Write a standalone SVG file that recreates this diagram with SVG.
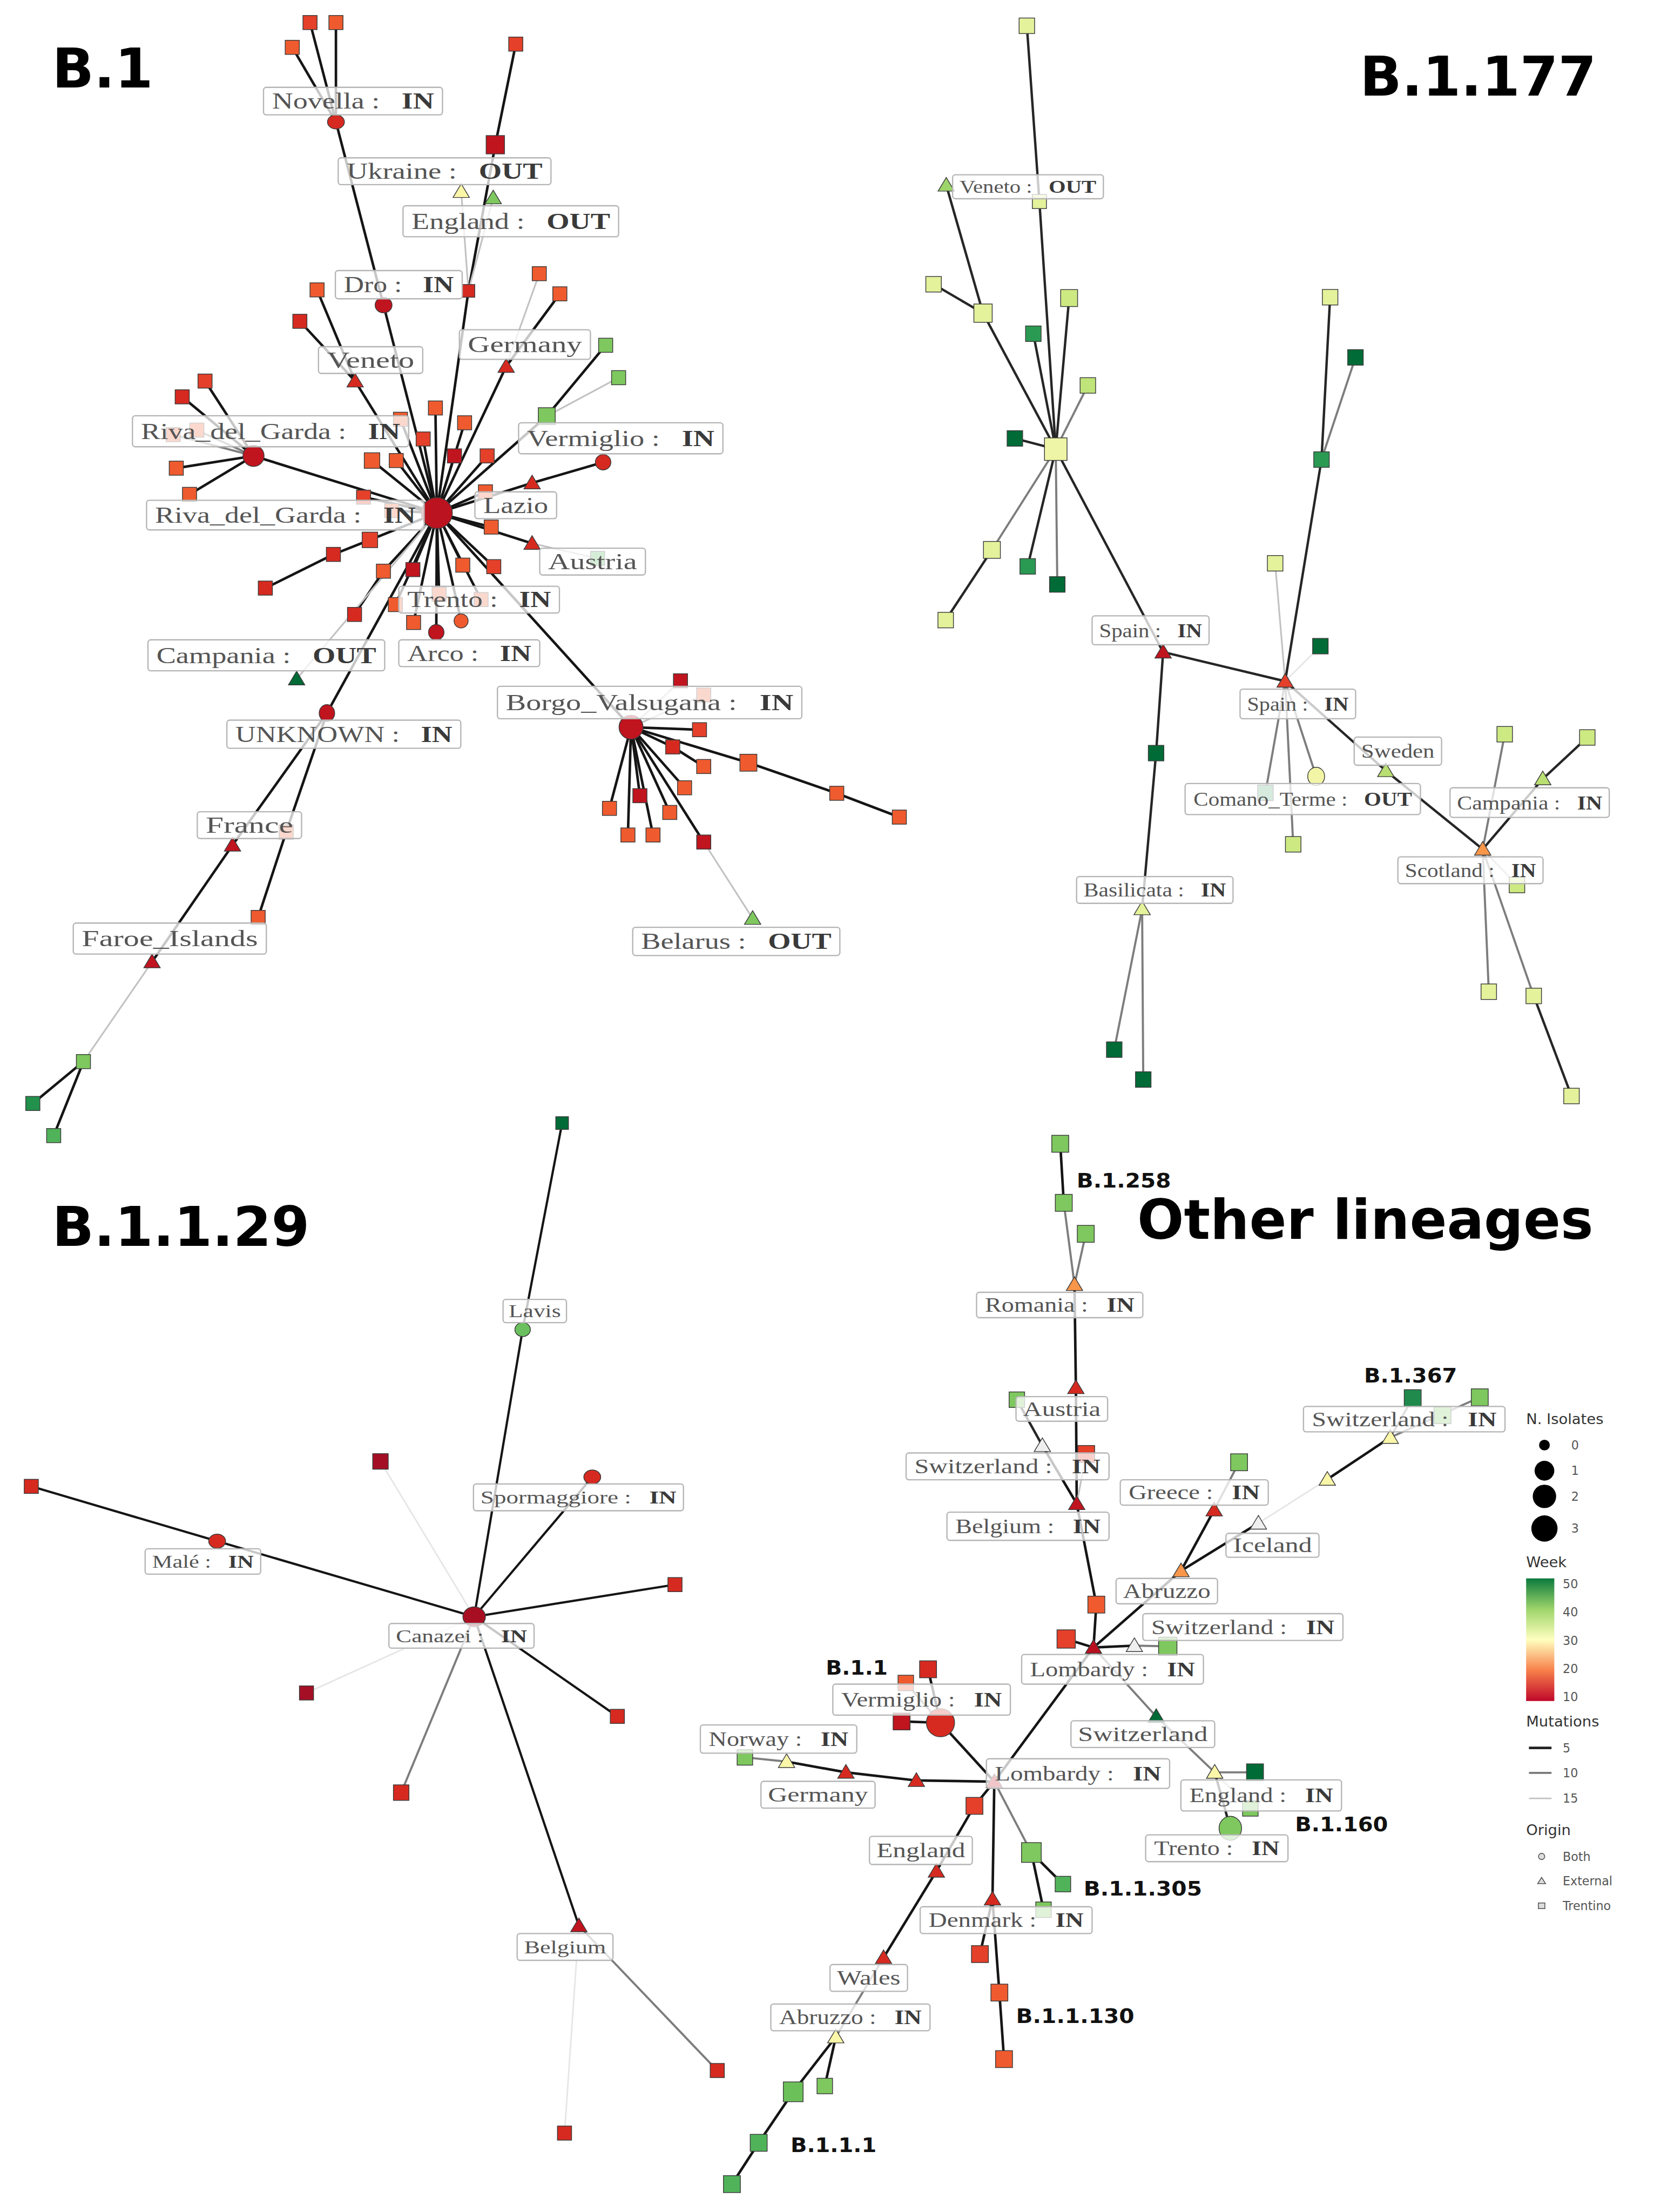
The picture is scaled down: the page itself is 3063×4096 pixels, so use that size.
<svg xmlns="http://www.w3.org/2000/svg" width="3063" height="4096" viewBox="0 0 3063 4096">
<style>
.e{fill:none;stroke-linecap:round}
.k{stroke:#151515;stroke-width:1.8}
.k2{stroke:#151515;stroke-width:1.6}
.d{stroke:#262626;stroke-width:1.7}
.m{stroke:#7d7d7d;stroke-width:1.5}
.p{stroke:#c2c2c2;stroke-width:1.2}
.q{stroke:#e6e6e6;stroke-width:1.1}
.n{stroke:#3a3a3a;stroke-width:0.55}
.lb rect{fill:#fff;fill-opacity:0.76;stroke:#b5b5b5;stroke-width:0.9}
.lb text{font-family:"Liberation Serif","DejaVu Serif",serif;fill:#555;white-space:pre;text-anchor:middle}
.lb .b{font-weight:bold;fill:#3a3a3a}
.s16 text{font-size:16px}
.s14 text{font-size:14px}
.s13 text{font-size:13px}
.s145 text{font-size:14.5px}
.tag{font-family:"DejaVu Sans",sans-serif;font-weight:bold;fill:#111;font-size:14px}
.ttl{font-family:"DejaVu Sans",sans-serif;font-weight:bold;font-size:39px;fill:#000}
.lg{font-family:"DejaVu Sans",sans-serif;fill:#555;font-size:8.5px}
.lgt{font-family:"DejaVu Sans",sans-serif;font-size:10.5px;fill:#333}
</style>
<rect width="3063" height="4096" fill="#fff"/>
<g transform="scale(2.6096)">
<defs>
<path id="t" d="M0,-5.5L5.8,4.2H-5.8Z"/>
<rect id="s9" x="-4.5" y="-4.5" width="9" height="9"/>
<rect id="s10" x="-5" y="-5" width="10" height="10"/>
<rect id="s11" x="-5.5" y="-5.5" width="11" height="11"/>
<rect id="s12" x="-6" y="-6" width="12" height="12"/>
<rect id="s13" x="-6.5" y="-6.5" width="13" height="13"/>
<rect id="s14" x="-7" y="-7" width="14" height="14"/>
<rect id="s16" x="-8" y="-8" width="16" height="16"/>
<linearGradient id="wk" x1="0" y1="0" x2="0" y2="1">
<stop offset="0" stop-color="#0b7a3e"/>
<stop offset="0.25" stop-color="#9dd46a"/>
<stop offset="0.5" stop-color="#ffffbf"/>
<stop offset="0.75" stop-color="#f7804a"/>
<stop offset="1" stop-color="#c0082a"/>
</linearGradient>
</defs>

<g id="connectors" class="e">
<!-- B.1 -->
<line class="k" x1="310" y1="364" x2="272.2" y2="216.5"/>
<line class="k" x1="272.2" y1="216.5" x2="238.4" y2="86.5"/>
<line class="k" x1="238.4" y1="86.5" x2="220" y2="16"/>
<line class="k" x1="238.4" y1="86.5" x2="238.4" y2="16"/>
<line class="k" x1="238.4" y1="86.5" x2="207.4" y2="33.6"/>
<line class="k" x1="310" y1="364" x2="332.4" y2="206.4"/>
<line class="k" x1="332.4" y1="206.4" x2="351.5" y2="102.7"/>
<line class="k" x1="351.5" y1="102.7" x2="366" y2="31.3"/>
<line class="p" x1="332.4" y1="206.4" x2="327.3" y2="135.9"/>
<line class="p" x1="332.4" y1="206.4" x2="350" y2="140.4"/>
<line class="k" x1="310" y1="364" x2="252" y2="270.4"/>
<line class="k" x1="252" y1="270.4" x2="225" y2="205.7"/>
<line class="k" x1="252" y1="270.4" x2="212.8" y2="228"/>
<line class="k" x1="310" y1="364" x2="359.2" y2="260"/>
<line class="p" x1="359.2" y1="260" x2="382.7" y2="194.2"/>
<line class="k" x1="359.2" y1="260" x2="397.3" y2="208.5"/>
<line class="k" x1="310" y1="364" x2="388" y2="295.3"/>
<line class="k" x1="388" y1="295.3" x2="429.8" y2="245"/>
<line class="p" x1="388" y1="295.3" x2="439" y2="268"/>
<line class="k" x1="310" y1="364" x2="179.9" y2="323.5"/>
<line class="k" x1="179.9" y1="323.5" x2="145.5" y2="270.4"/>
<line class="k" x1="179.9" y1="323.5" x2="129.3" y2="281.6"/>
<line class="k" x1="179.9" y1="323.5" x2="125.1" y2="332.2"/>
<line class="k" x1="179.9" y1="323.5" x2="134.5" y2="350.8"/>
<line class="m" x1="179.9" y1="323.5" x2="122.9" y2="308.4"/>
<line class="m" x1="179.9" y1="323.5" x2="139.7" y2="305.2"/>
<line class="k" x1="310" y1="364" x2="309" y2="289.5"/>
<line class="k" x1="310" y1="364" x2="329.7" y2="300"/>
<line class="k" x1="310" y1="364" x2="300.3" y2="311.5"/>
<line class="k" x1="310" y1="364" x2="264" y2="326.8"/>
<line class="k" x1="310" y1="364" x2="281.2" y2="326.8"/>
<line class="k" x1="310" y1="364" x2="322.5" y2="323.5"/>
<line class="k" x1="310" y1="364" x2="345.7" y2="323.5"/>
<line class="k" x1="310" y1="364" x2="258" y2="352.8"/>
<line class="k" x1="310" y1="364" x2="344.5" y2="349"/>
<line class="k" x1="310" y1="364" x2="284.2" y2="297.5"/>
<line class="k" x1="310" y1="364" x2="278" y2="362.3"/>
<line class="k" x1="310" y1="364" x2="377.6" y2="342.7"/>
<line class="k" x1="377.6" y1="342.7" x2="428" y2="328"/>
<line class="k" x1="310" y1="364" x2="348.6" y2="374"/>
<line class="k" x1="310" y1="364" x2="377.6" y2="385.6"/>
<line class="p" x1="377.6" y1="385.6" x2="424.1" y2="396.2"/>
<line class="k" x1="310" y1="364" x2="262.5" y2="383.1"/>
<line class="k" x1="262.5" y1="383.1" x2="236.6" y2="393.4"/>
<line class="k" x1="236.6" y1="393.4" x2="188.3" y2="417.3"/>
<line class="k" x1="310" y1="364" x2="272.1" y2="405.3"/>
<line class="k" x1="272.1" y1="405.3" x2="251.6" y2="436"/>
<line class="k" x1="310" y1="364" x2="293" y2="404.2"/>
<line class="k" x1="310" y1="364" x2="328.4" y2="401"/>
<line class="k" x1="310" y1="364" x2="350.4" y2="402.1"/>
<line class="k" x1="310" y1="364" x2="293.5" y2="441.7"/>
<line class="k" x1="310" y1="364" x2="309.6" y2="448.7"/>
<line class="k" x1="310" y1="364" x2="327.2" y2="440.6"/>
<line class="k" x1="310" y1="364" x2="280.6" y2="429"/>
<line class="k" x1="310" y1="364" x2="311.6" y2="421.6"/>
<line class="k" x1="310" y1="364" x2="341.4" y2="425.4"/>
<line class="p" x1="310" y1="364" x2="210.5" y2="481.8"/>
<line class="k" x1="310" y1="364" x2="232" y2="506"/>
<line class="k" x1="232" y1="506" x2="165" y2="599.7"/>
<line class="k" x1="165" y1="599.7" x2="107.9" y2="682.5"/>
<line class="k" x1="232" y1="506" x2="203.1" y2="590.3"/>
<line class="k" x1="203.1" y1="590.3" x2="183.2" y2="651"/>
<line class="p" x1="107.9" y1="682.5" x2="59.2" y2="753.3"/>
<line class="k" x1="59.2" y1="753.3" x2="23.3" y2="783"/>
<line class="k" x1="59.2" y1="753.3" x2="38.1" y2="805.8"/>
<line class="k" x1="310" y1="364" x2="447.8" y2="516"/>
<line class="p" x1="447.8" y1="516" x2="482.9" y2="483.1"/>
<line class="p" x1="447.8" y1="516" x2="499.4" y2="493.2"/>
<line class="k" x1="447.8" y1="516" x2="496.4" y2="517.8"/>
<line class="k" x1="447.8" y1="516" x2="477.4" y2="530"/>
<line class="k" x1="477.4" y1="530" x2="499.4" y2="543.9"/>
<line class="k" x1="447.8" y1="516" x2="531.1" y2="541.2"/>
<line class="k" x1="531.1" y1="541.2" x2="593.8" y2="562.9"/>
<line class="k" x1="593.8" y1="562.9" x2="638.2" y2="579.8"/>
<line class="k" x1="447.8" y1="516" x2="485.8" y2="559"/>
<line class="k" x1="447.8" y1="516" x2="454.1" y2="564.6"/>
<line class="k" x1="447.8" y1="516" x2="432.5" y2="573.6"/>
<line class="k" x1="447.8" y1="516" x2="475.3" y2="576.5"/>
<line class="k" x1="447.8" y1="516" x2="445.6" y2="592.5"/>
<line class="k" x1="447.8" y1="516" x2="463.4" y2="592.5"/>
<line class="k" x1="447.8" y1="516" x2="499.4" y2="597.5"/>
<line class="p" x1="499.4" y1="597.5" x2="534.1" y2="651.7"/>
<!-- B.1.177 -->
<line class="d" x1="728.7" y1="18.3" x2="737.6" y2="143"/>
<line class="d" x1="737.6" y1="143" x2="749.2" y2="318.7"/>
<line class="d" x1="671.5" y1="131.4" x2="697.6" y2="222.2"/>
<line class="d" x1="662.5" y1="201.7" x2="697.6" y2="222.2"/>
<line class="d" x1="697.6" y1="222.2" x2="749.2" y2="318.7"/>
<line class="d" x1="758.7" y1="211.5" x2="749.2" y2="318.7"/>
<line class="d" x1="733.3" y1="236.8" x2="749.2" y2="318.7"/>
<line class="m" x1="772" y1="273.5" x2="749.2" y2="318.7"/>
<line class="d" x1="720.2" y1="311.1" x2="749.2" y2="318.7"/>
<line class="m" x1="703.9" y1="390.2" x2="749.2" y2="318.7"/>
<line class="d" x1="671.1" y1="440" x2="703.9" y2="390.2"/>
<line class="d" x1="729.3" y1="401.9" x2="749.2" y2="318.7"/>
<line class="m" x1="750.3" y1="414.7" x2="749.2" y2="318.7"/>
<line class="d" x1="749.2" y1="318.7" x2="825.4" y2="462.7"/>
<line class="d" x1="825.4" y1="462.7" x2="912" y2="483.4"/>
<line class="d" x1="825.4" y1="462.7" x2="820.4" y2="534.4"/>
<line class="d" x1="820.4" y1="534.4" x2="810.5" y2="644.9"/>
<line class="m" x1="810.5" y1="644.9" x2="790.7" y2="744.8"/>
<line class="m" x1="810.5" y1="644.9" x2="811.3" y2="766"/>
<line class="d" x1="912" y1="483.4" x2="937.8" y2="326.1"/>
<line class="d" x1="937.8" y1="326.1" x2="943.9" y2="210.9"/>
<line class="m" x1="937.8" y1="326.1" x2="961.9" y2="253.6"/>
<line class="p" x1="912" y1="483.4" x2="904.9" y2="399.7"/>
<line class="q" x1="912" y1="483.4" x2="937" y2="458.5"/>
<line class="m" x1="912" y1="483.4" x2="898" y2="562.6"/>
<line class="m" x1="912" y1="483.4" x2="917.7" y2="599.1"/>
<line class="m" x1="912" y1="483.4" x2="934" y2="550.9"/>
<line class="d" x1="912" y1="483.4" x2="983.4" y2="546.9"/>
<line class="d" x1="983.4" y1="546.9" x2="1052.2" y2="602.6"/>
<line class="d" x1="1052.2" y1="602.6" x2="1094.8" y2="552.7"/>
<line class="d" x1="1094.8" y1="552.7" x2="1126.4" y2="523.3"/>
<line class="m" x1="1052.2" y1="602.6" x2="1067.8" y2="521"/>
<line class="p" x1="1052.2" y1="602.6" x2="1076.5" y2="628"/>
<line class="m" x1="1052.2" y1="602.6" x2="1056.5" y2="703.7"/>
<line class="m" x1="1052.2" y1="602.6" x2="1088.4" y2="706.7"/>
<line class="d" x1="1088.4" y1="706.7" x2="1115.2" y2="777.7"/>
<!-- B.1.1.29 -->
<line class="k2" x1="398.9" y1="796.9" x2="370.9" y2="943.4"/>
<line class="k2" x1="370.9" y1="943.4" x2="336.5" y2="1147.2"/>
<line class="q" x1="336.5" y1="1147.2" x2="270" y2="1037"/>
<line class="k2" x1="336.5" y1="1147.2" x2="420.3" y2="1048.1"/>
<line class="k2" x1="336.5" y1="1147.2" x2="154.1" y2="1093.6"/>
<line class="k2" x1="154.1" y1="1093.6" x2="22.2" y2="1054.7"/>
<line class="k2" x1="336.5" y1="1147.2" x2="479" y2="1124.4"/>
<line class="k2" x1="336.5" y1="1147.2" x2="438.1" y2="1217.9"/>
<line class="m" x1="336.5" y1="1147.2" x2="284.7" y2="1272"/>
<line class="q" x1="336.5" y1="1147.2" x2="217.5" y2="1201.3"/>
<line class="k2" x1="336.5" y1="1147.2" x2="410.8" y2="1366.5"/>
<line class="m" x1="410.8" y1="1366.5" x2="509" y2="1469.2"/>
<line class="q" x1="410.8" y1="1366.5" x2="400.6" y2="1513.6"/>
<!-- Other lineages -->
<line class="k" x1="752.4" y1="811.6" x2="754.9" y2="853.5"/>
<line class="m" x1="754.9" y1="853.5" x2="762.5" y2="911.5"/>
<line class="m" x1="770.5" y1="875.5" x2="762.5" y2="911.5"/>
<line class="k" x1="762.5" y1="911.5" x2="763.5" y2="984.7"/>
<line class="k" x1="763.5" y1="984.7" x2="764.1" y2="1067"/>
<line class="d" x1="721.6" y1="993.2" x2="739.7" y2="1025.8"/>
<line class="k" x1="739.7" y1="1025.8" x2="764.1" y2="1067"/>
<line class="p" x1="770.8" y1="1031.7" x2="764.1" y2="1067"/>
<line class="k" x1="764.1" y1="1067" x2="778" y2="1138.6"/>
<line class="k" x1="778" y1="1138.6" x2="776" y2="1169"/>
<line class="k" x1="776" y1="1169" x2="756.6" y2="1163"/>
<line class="k" x1="776" y1="1169" x2="805" y2="1167.7"/>
<line class="m" x1="805" y1="1167.7" x2="828.7" y2="1168.2"/>
<line class="k" x1="776" y1="1169" x2="838.1" y2="1114.6"/>
<line class="k" x1="838.1" y1="1114.6" x2="861.6" y2="1071.5"/>
<line class="m" x1="861.6" y1="1071.5" x2="879.3" y2="1037.6"/>
<line class="k" x1="838.1" y1="1114.6" x2="893" y2="1080.8"/>
<line class="q" x1="893" y1="1080.8" x2="941.9" y2="1049.7"/>
<line class="k" x1="941.9" y1="1049.7" x2="986.6" y2="1020"/>
<line class="m" x1="986.6" y1="1020" x2="1002.5" y2="992.1"/>
<line class="m" x1="986.6" y1="1020" x2="1050.1" y2="991.5"/>
<line class="m" x1="776" y1="1169" x2="820.5" y2="1218"/>
<line class="m" x1="820.5" y1="1218" x2="862" y2="1257.6"/>
<line class="m" x1="862" y1="1257.6" x2="890.6" y2="1257.6"/>
<line class="p" x1="862" y1="1257.6" x2="887.3" y2="1283.2"/>
<line class="d" x1="862" y1="1257.6" x2="873.1" y2="1297.3"/>
<line class="k" x1="776" y1="1169" x2="705.6" y2="1264.2"/>
<line class="k" x1="705.6" y1="1264.2" x2="667.4" y2="1222.4"/>
<line class="k" x1="667.4" y1="1222.4" x2="639.8" y2="1221.5"/>
<line class="k" x1="667.4" y1="1222.4" x2="658.6" y2="1184.5"/>
<line class="m" x1="667.4" y1="1222.4" x2="642.8" y2="1194.2"/>
<line class="k" x1="705.6" y1="1264.2" x2="650.3" y2="1263.4"/>
<line class="k" x1="650.3" y1="1263.4" x2="600.3" y2="1257.6"/>
<line class="k" x1="600.3" y1="1257.6" x2="558.2" y2="1250"/>
<line class="m" x1="558.2" y1="1250" x2="528.6" y2="1247"/>
<line class="k" x1="705.6" y1="1264.2" x2="691.5" y2="1281.4"/>
<line class="k" x1="691.5" y1="1281.4" x2="664.5" y2="1327.8"/>
<line class="k" x1="664.5" y1="1327.8" x2="627" y2="1389.1"/>
<line class="m" x1="627" y1="1389.1" x2="593.1" y2="1445.4"/>
<line class="k" x1="593.1" y1="1445.4" x2="562.9" y2="1484.3"/>
<line class="k" x1="562.9" y1="1484.3" x2="538.4" y2="1520.5"/>
<line class="k" x1="538.4" y1="1520.5" x2="519.4" y2="1549.8"/>
<line class="k" x1="593.1" y1="1445.4" x2="585.3" y2="1480.2"/>
<line class="k" x1="705.6" y1="1264.2" x2="704.3" y2="1347.6"/>
<line class="k" x1="704.3" y1="1347.6" x2="695.4" y2="1386.6"/>
<line class="k" x1="704.3" y1="1347.6" x2="709.2" y2="1413.9"/>
<line class="k" x1="709.2" y1="1413.9" x2="712.5" y2="1461.1"/>
<line class="m" x1="705.6" y1="1264.2" x2="731.9" y2="1314.5"/>
<line class="k" x1="731.9" y1="1314.5" x2="754.3" y2="1336.9"/>
<line class="k" x1="731.9" y1="1314.5" x2="740.5" y2="1355.1"/>
</g>

<g id="nodes" class="n">
<!-- B.1 -->
<g id="b1-hub"><circle cx="310" cy="364" r="11" fill="#bb131f"/></g>
<g id="b1-novella"><ellipse cx="238.4" cy="86.5" rx="6" ry="5" fill="#d62a20"/></g>
<g id="b1-n1"><use href="#s10" x="220" y="16" fill="#e4402a"/></g>
<g id="b1-n2"><use href="#s10" x="238.4" y="16" fill="#ef5b2e"/></g>
<g id="b1-n3"><use href="#s10" x="207.4" y="33.6" fill="#ef5b2e"/></g>
<g id="b1-dro"><ellipse cx="272.2" cy="216.5" rx="6" ry="5.5" fill="#c0141f"/></g>
<g id="b1-n4"><use href="#s13" x="351.5" y="102.7" fill="#c0141f"/></g>
<g id="b1-n5"><use href="#s10" x="366" y="31.3" fill="#e4402a"/></g>
<g id="b1-n6"><use href="#s9" x="332.4" y="206.4" fill="#d62a20"/></g>
<g id="b1-ukraine"><use href="#t" x="327.3" y="135.9" fill="#fbf7a9"/></g>
<g id="b1-england"><use href="#t" x="350" y="140.4" fill="#7ec85f"/></g>
<g id="b1-veneto"><use href="#t" x="252" y="270.4" fill="#d62a20"/></g>
<g id="b1-n7"><use href="#s10" x="225" y="205.7" fill="#ef5b2e"/></g>
<g id="b1-n8"><use href="#s10" x="212.8" y="228" fill="#d62a20"/></g>
<g id="b1-germany"><use href="#t" x="359.2" y="260" fill="#d62a20"/></g>
<g id="b1-n9"><use href="#s10" x="382.7" y="194.2" fill="#ef5b2e"/></g>
<g id="b1-n10"><use href="#s10" x="397.3" y="208.5" fill="#ef5b2e"/></g>
<g id="b1-n11"><use href="#s12" x="388" y="295.3" fill="#7ec85f"/></g>
<g id="b1-n12"><use href="#s10" x="429.8" y="245" fill="#7ec85f"/></g>
<g id="b1-n13"><use href="#s10" x="439" y="268" fill="#7ec85f"/></g>
<g id="b1-riva"><circle cx="179.9" cy="323.5" r="7.5" fill="#c0141f"/></g>
<g id="b1-n14"><use href="#s10" x="145.5" y="270.4" fill="#e4402a"/></g>
<g id="b1-n15"><use href="#s10" x="129.3" y="281.6" fill="#d62a20"/></g>
<g id="b1-n16"><use href="#s10" x="125.1" y="332.2" fill="#ef5b2e"/></g>
<g id="b1-n17"><use href="#s10" x="134.5" y="350.8" fill="#ef5b2e"/></g>
<g id="b1-n18"><use href="#s10" x="122.9" y="308.4" fill="#ef5b2e"/></g>
<g id="b1-n19"><use href="#s10" x="139.7" y="305.2" fill="#ef5b2e"/></g>
<g id="b1-n20"><use href="#s10" x="309" y="289.5" fill="#ef5b2e"/></g>
<g id="b1-n21"><use href="#s10" x="329.7" y="300" fill="#ef5b2e"/></g>
<g id="b1-n22"><use href="#s10" x="300.3" y="311.5" fill="#e4402a"/></g>
<g id="b1-n23"><use href="#s11" x="264" y="326.8" fill="#ef5b2e"/></g>
<g id="b1-n24"><use href="#s10" x="281.2" y="326.8" fill="#ef5b2e"/></g>
<g id="b1-n25"><use href="#s10" x="322.5" y="323.5" fill="#c0141f"/></g>
<g id="b1-n26"><use href="#s10" x="345.7" y="323.5" fill="#e4402a"/></g>
<g id="b1-n27"><use href="#s10" x="258" y="352.8" fill="#e4402a"/></g>
<g id="b1-n28"><use href="#s10" x="344.5" y="349" fill="#ef5b2e"/></g>
<g id="b1-n29"><use href="#s10" x="284.2" y="297.5" fill="#ef5b2e"/></g>
<g id="b1-n30"><use href="#s10" x="278" y="362.3" fill="#ef5b2e"/></g>
<g id="b1-n31"><use href="#s10" x="348.6" y="374" fill="#ef5b2e"/></g>
<g id="b1-lazio"><use href="#t" x="377.6" y="342.7" fill="#d62a20"/></g>
<g id="b1-vermiglio"><circle cx="428" cy="328" r="5.5" fill="#d62a20"/></g>
<g id="b1-austria"><use href="#t" x="377.6" y="385.6" fill="#d62a20"/></g>
<g id="b1-n32"><use href="#s10" x="424.1" y="396.2" fill="#50b35a"/></g>
<g id="b1-n33"><use href="#s11" x="262.5" y="383.1" fill="#e4402a"/></g>
<g id="b1-n34"><use href="#s10" x="236.6" y="393.4" fill="#d62a20"/></g>
<g id="b1-n35"><use href="#s10" x="188.3" y="417.3" fill="#d62a20"/></g>
<g id="b1-n36"><use href="#s10" x="272.1" y="405.3" fill="#ef5b2e"/></g>
<g id="b1-n37"><use href="#s10" x="251.6" y="436" fill="#d62a20"/></g>
<g id="b1-n38"><use href="#s10" x="293" y="404.2" fill="#c0141f"/></g>
<g id="b1-n39"><use href="#s10" x="328.4" y="401" fill="#ef5b2e"/></g>
<g id="b1-n40"><use href="#s10" x="350.4" y="402.1" fill="#e4402a"/></g>
<g id="b1-n41"><use href="#s10" x="293.5" y="441.7" fill="#ef5b2e"/></g>
<g id="b1-arco"><circle cx="309.6" cy="448.7" r="5.5" fill="#c0141f"/></g>
<g id="b1-trento"><circle cx="327.2" cy="440.6" r="5" fill="#ef5b2e"/></g>
<g id="b1-n42"><use href="#s10" x="280.6" y="429" fill="#ef5b2e"/></g>
<g id="b1-n43"><use href="#s10" x="311.6" y="421.6" fill="#ef5b2e"/></g>
<g id="b1-n44"><use href="#s10" x="341.4" y="425.4" fill="#ef5b2e"/></g>
<g id="b1-campania"><use href="#t" x="210.5" y="481.8" fill="#006b36"/></g>
<g id="b1-unknown"><ellipse cx="232" cy="506" rx="5.5" ry="6" fill="#c0141f"/></g>
<g id="b1-france"><use href="#t" x="165" y="599.7" fill="#c0141f"/></g>
<g id="b1-n45"><use href="#s10" x="203.1" y="590.3" fill="#ef5b2e"/></g>
<g id="b1-n46"><use href="#s10" x="183.2" y="651" fill="#ef5b2e"/></g>
<g id="b1-faroe"><use href="#t" x="107.9" y="682.5" fill="#c0141f"/></g>
<g id="b1-n47"><use href="#s10" x="59.2" y="753.3" fill="#7ec85f"/></g>
<g id="b1-n48"><use href="#s10" x="23.3" y="783" fill="#21914b"/></g>
<g id="b1-n49"><use href="#s10" x="38.1" y="805.8" fill="#50b35a"/></g>
<g id="b1-borgo"><circle cx="447.8" cy="516" r="8.5" fill="#c0141f"/></g>
<g id="b1-n50"><use href="#s10" x="482.9" y="483.1" fill="#c0141f"/></g>
<g id="b1-n51"><use href="#s10" x="499.4" y="493.2" fill="#ef5b2e"/></g>
<g id="b1-n52"><use href="#s10" x="496.4" y="517.8" fill="#e4402a"/></g>
<g id="b1-n53"><use href="#s10" x="477.4" y="530" fill="#d62a20"/></g>
<g id="b1-n54"><use href="#s10" x="499.4" y="543.9" fill="#ef5b2e"/></g>
<g id="b1-n55"><use href="#s12" x="531.1" y="541.2" fill="#ef5b2e"/></g>
<g id="b1-n56"><use href="#s10" x="593.8" y="562.9" fill="#ef5b2e"/></g>
<g id="b1-n57"><use href="#s10" x="638.2" y="579.8" fill="#ef5b2e"/></g>
<g id="b1-n58"><use href="#s10" x="485.8" y="559" fill="#ef5b2e"/></g>
<g id="b1-n59"><use href="#s10" x="454.1" y="564.6" fill="#c0141f"/></g>
<g id="b1-n60"><use href="#s10" x="432.5" y="573.6" fill="#ef5b2e"/></g>
<g id="b1-n61"><use href="#s10" x="475.3" y="576.5" fill="#ef5b2e"/></g>
<g id="b1-n62"><use href="#s10" x="445.6" y="592.5" fill="#ef5b2e"/></g>
<g id="b1-n63"><use href="#s10" x="463.4" y="592.5" fill="#ef5b2e"/></g>
<g id="b1-n64"><use href="#s10" x="499.4" y="597.5" fill="#c0141f"/></g>
<g id="b1-belarus"><use href="#t" x="534.1" y="651.7" fill="#7ec85f"/></g>
<!-- B.1.177 -->
<g id="c-hub"><use href="#s16" x="749.2" y="318.7" fill="#eef5a6"/></g>
<g id="c-n1"><use href="#s11" x="728.7" y="18.3" fill="#e3f29b"/></g>
<g id="c-n2"><use href="#s10" x="737.6" y="143" fill="#e3f29b"/></g>
<g id="c-veneto"><use href="#t" x="671.5" y="131.4" fill="#9ed56b"/></g>
<g id="c-n3"><use href="#s11" x="662.5" y="201.7" fill="#e3f29b"/></g>
<g id="c-n4"><use href="#s13" x="697.6" y="222.2" fill="#e3f29b"/></g>
<g id="c-n5"><use href="#s12" x="758.7" y="211.5" fill="#cde982"/></g>
<g id="c-n6"><use href="#s11" x="733.3" y="236.8" fill="#2a9a52"/></g>
<g id="c-n7"><use href="#s11" x="772" y="273.5" fill="#bfe479"/></g>
<g id="c-n8"><use href="#s11" x="720.2" y="311.1" fill="#006b36"/></g>
<g id="c-n9"><use href="#s12" x="703.9" y="390.2" fill="#e3f29b"/></g>
<g id="c-n10"><use href="#s11" x="671.1" y="440" fill="#e3f29b"/></g>
<g id="c-n11"><use href="#s11" x="729.3" y="401.9" fill="#2a9a52"/></g>
<g id="c-n12"><use href="#s11" x="750.3" y="414.7" fill="#006b36"/></g>
<g id="c-spain1"><use href="#t" x="825.4" y="462.7" fill="#c0141f"/></g>
<g id="c-n13"><use href="#s11" x="943.9" y="210.9" fill="#e3f29b"/></g>
<g id="c-n14"><use href="#s11" x="961.9" y="253.6" fill="#006b36"/></g>
<g id="c-n15"><use href="#s11" x="937.8" y="326.1" fill="#2a9a52"/></g>
<g id="c-n16"><use href="#s11" x="904.9" y="399.7" fill="#e3f29b"/></g>
<g id="c-n17"><use href="#s11" x="937" y="458.5" fill="#006b36"/></g>
<g id="c-spain2"><use href="#t" x="912" y="483.4" fill="#e4402a"/></g>
<g id="c-n18"><use href="#s11" x="898" y="562.6" fill="#5aa877"/></g>
<g id="c-n19"><use href="#s11" x="917.7" y="599.1" fill="#cde982"/></g>
<g id="c-comano"><ellipse cx="934" cy="550.9" rx="6" ry="6.5" fill="#f3f5a6"/></g>
<g id="c-sweden"><use href="#t" x="983.4" y="546.9" fill="#b9df72"/></g>
<g id="c-scotland"><use href="#t" x="1052.2" y="602.6" fill="#f8964a"/></g>
<g id="c-campania"><use href="#t" x="1094.8" y="552.7" fill="#b9df72"/></g>
<g id="c-n20"><use href="#s11" x="1067.8" y="521" fill="#cde982"/></g>
<g id="c-n21"><use href="#s11" x="1126.4" y="523.3" fill="#cde982"/></g>
<g id="c-n22"><use href="#s11" x="1076.5" y="628" fill="#cde982"/></g>
<g id="c-n23"><use href="#s11" x="1056.5" y="703.7" fill="#e3f29b"/></g>
<g id="c-n24"><use href="#s11" x="1088.4" y="706.7" fill="#e3f29b"/></g>
<g id="c-n25"><use href="#s11" x="1115.2" y="777.7" fill="#e3f29b"/></g>
<g id="c-n26"><use href="#s11" x="820.4" y="534.4" fill="#006b36"/></g>
<g id="c-basilicata"><use href="#t" x="810.5" y="644.9" fill="#e3f29b"/></g>
<g id="c-n27"><use href="#s11" x="790.7" y="744.8" fill="#006b36"/></g>
<g id="c-n28"><use href="#s11" x="811.3" y="766" fill="#006b36"/></g>
<!-- B.1.1.29 -->
<g id="d-hub"><ellipse cx="336.5" cy="1147.2" rx="8" ry="7" fill="#a80e22"/></g>
<g id="d-n1"><use href="#s9" x="398.9" y="796.9" fill="#006b36"/></g>
<g id="d-lavis"><ellipse cx="370.9" cy="943.4" rx="5.5" ry="5" fill="#6abf5e"/></g>
<g id="d-n2"><use href="#s11" x="270" y="1037" fill="#a50f26"/></g>
<g id="d-sporm"><ellipse cx="420.3" cy="1048.1" rx="6" ry="5" fill="#d62a20"/></g>
<g id="d-n3"><use href="#s10" x="22.2" y="1054.7" fill="#d62a20"/></g>
<g id="d-male"><ellipse cx="154.1" cy="1093.6" rx="6" ry="5" fill="#d62a20"/></g>
<g id="d-n4"><use href="#s10" x="479" y="1124.4" fill="#d62a20"/></g>
<g id="d-n5"><use href="#s10" x="438.1" y="1217.9" fill="#d62a20"/></g>
<g id="d-n6"><use href="#s11" x="284.7" y="1272" fill="#d62a20"/></g>
<g id="d-n7"><use href="#s10" x="217.5" y="1201.3" fill="#a50f26"/></g>
<g id="d-belgium"><use href="#t" x="410.8" y="1366.5" fill="#c0141f"/></g>
<g id="d-n8"><use href="#s10" x="509" y="1469.2" fill="#d62a20"/></g>
<g id="d-n9"><use href="#s10" x="400.6" y="1513.6" fill="#d62a20"/></g>
<!-- Other lineages -->
<g id="o-n1"><use href="#s12" x="752.4" y="811.6" fill="#7ec85f"/></g>
<g id="o-n2"><use href="#s12" x="754.9" y="853.5" fill="#7ec85f"/></g>
<g id="o-n3"><use href="#s12" x="770.5" y="875.5" fill="#7ec85f"/></g>
<g id="o-romania"><use href="#t" x="762.5" y="911.5" fill="#f8964a"/></g>
<g id="o-t1"><use href="#t" x="763.5" y="984.7" fill="#d62a20"/></g>
<g id="o-austria"><use href="#s11" x="721.6" y="993.2" fill="#7ec85f"/></g>
<g id="o-switz1"><use href="#t" x="739.7" y="1025.8" fill="#efefef"/></g>
<g id="o-n4"><use href="#s12" x="770.8" y="1031.7" fill="#e4402a"/></g>
<g id="o-belgium"><use href="#t" x="764.1" y="1067" fill="#c0141f"/></g>
<g id="o-n5"><use href="#s12" x="879.3" y="1037.6" fill="#7ec85f"/></g>
<g id="o-greece"><use href="#t" x="861.6" y="1071.5" fill="#d62a20"/></g>
<g id="o-iceland"><use href="#t" x="893" y="1080.8" fill="#efefef"/></g>
<g id="o-abruzzo"><use href="#t" x="838.1" y="1114.6" fill="#f8964a"/></g>
<g id="o-n6"><use href="#s12" x="1002.5" y="992.1" fill="#1f8a4c"/></g>
<g id="o-n7"><use href="#s12" x="1050.1" y="991.5" fill="#7ec85f"/></g>
<g id="o-n8"><use href="#s12" x="1023.7" y="1004.2" fill="#7ec85f"/></g>
<g id="o-switz2"><use href="#t" x="986.6" y="1020" fill="#fbf7a9"/></g>
<g id="o-t2"><use href="#t" x="941.9" y="1049.7" fill="#fbf7a9"/></g>
<g id="o-n9"><use href="#s12" x="778" y="1138.6" fill="#ef5b2e"/></g>
<g id="o-n10"><use href="#s13" x="756.6" y="1163" fill="#e4402a"/></g>
<g id="o-lombardy1"><use href="#t" x="776" y="1169" fill="#b8101f"/></g>
<g id="o-switz3"><use href="#t" x="805" y="1167.7" fill="#efefef"/></g>
<g id="o-n11"><use href="#s13" x="828.7" y="1168.2" fill="#7ec85f"/></g>
<g id="o-switz4"><use href="#t" x="820.5" y="1218" fill="#006b36"/></g>
<g id="o-england160"><use href="#t" x="862" y="1257.6" fill="#fbf7a9"/></g>
<g id="o-n12"><use href="#s12" x="890.6" y="1257.6" fill="#006b36"/></g>
<g id="o-n13"><use href="#s11" x="887.3" y="1283.2" fill="#7ec85f"/></g>
<g id="o-trento"><ellipse cx="873.1" cy="1297.3" rx="8" ry="8.5" fill="#7ec85f"/></g>
<g id="o-n14"><use href="#s12" x="658.6" y="1184.5" fill="#d62a20"/></g>
<g id="o-n15"><use href="#s11" x="642.8" y="1194.2" fill="#ef5b2e"/></g>
<g id="o-n16"><use href="#s12" x="639.8" y="1221.5" fill="#c0141f"/></g>
<g id="o-vermiglio"><circle cx="667.4" cy="1222.4" r="10" fill="#d62a20"/></g>
<g id="o-lombardy2"><use href="#t" x="705.6" y="1264.2" fill="#c0141f"/></g>
<g id="o-n17"><use href="#s11" x="528.6" y="1247" fill="#7ec85f"/></g>
<g id="o-norway"><use href="#t" x="558.2" y="1250" fill="#fbf7a9"/></g>
<g id="o-germany"><use href="#t" x="600.3" y="1257.6" fill="#d62a20"/></g>
<g id="o-t3"><use href="#t" x="650.3" y="1263.4" fill="#d62a20"/></g>
<g id="o-n18"><use href="#s12" x="691.5" y="1281.4" fill="#e4402a"/></g>
<g id="o-england"><use href="#t" x="664.5" y="1327.8" fill="#d62a20"/></g>
<g id="o-wales"><use href="#t" x="627" y="1389.1" fill="#d62a20"/></g>
<g id="o-abruzzo2"><use href="#t" x="593.1" y="1445.4" fill="#fbf7a9"/></g>
<g id="o-n19"><use href="#s14" x="562.9" y="1484.3" fill="#6cc05a"/></g>
<g id="o-n20"><use href="#s11" x="585.3" y="1480.2" fill="#7ec85f"/></g>
<g id="o-n21"><use href="#s12" x="538.4" y="1520.5" fill="#50b35a"/></g>
<g id="o-n22"><use href="#s12" x="519.4" y="1549.8" fill="#50b35a"/></g>
<g id="o-n23"><use href="#s14" x="731.9" y="1314.5" fill="#7ec85f"/></g>
<g id="o-n24"><use href="#s11" x="754.3" y="1336.9" fill="#50b35a"/></g>
<g id="o-n25"><use href="#s11" x="740.5" y="1355.1" fill="#7ec85f"/></g>
<g id="o-denmark"><use href="#t" x="704.3" y="1347.6" fill="#d62a20"/></g>
<g id="o-n26"><use href="#s12" x="695.4" y="1386.6" fill="#e4402a"/></g>
<g id="o-n27"><use href="#s12" x="709.2" y="1413.9" fill="#ef5b2e"/></g>
<g id="o-n28"><use href="#s12" x="712.5" y="1461.1" fill="#ef5b2e"/></g>
</g>

<g id="labels">
<!-- B.1 -->
<g id="lb-b1-novella" class="lb s16"><rect x="187" y="62" width="127" height="19.5" rx="2"/><text x="250.5" y="77.2" textLength="115" lengthAdjust="spacingAndGlyphs">Novella :   <tspan class="b">IN</tspan></text></g>
<g id="lb-b1-ukraine" class="lb s16"><rect x="240" y="112" width="151" height="19" rx="2"/><text x="315.5" y="126.9" textLength="139" lengthAdjust="spacingAndGlyphs">Ukraine :   <tspan class="b">OUT</tspan></text></g>
<g id="lb-b1-england" class="lb s16"><rect x="286" y="146" width="153" height="22" rx="2"/><text x="362.5" y="162.4" textLength="141" lengthAdjust="spacingAndGlyphs">England :   <tspan class="b">OUT</tspan></text></g>
<g id="lb-b1-dro" class="lb s16"><rect x="238" y="192" width="90" height="20" rx="2"/><text x="283" y="207.4" textLength="78" lengthAdjust="spacingAndGlyphs">Dro :   <tspan class="b">IN</tspan></text></g>
<g id="lb-b1-germany" class="lb s16"><rect x="326" y="234" width="93" height="21" rx="2"/><text x="372.5" y="249.9" textLength="81" lengthAdjust="spacingAndGlyphs">Germany</text></g>
<g id="lb-b1-veneto" class="lb s16"><rect x="226" y="246" width="74" height="19" rx="2"/><text x="263" y="260.9" textLength="62" lengthAdjust="spacingAndGlyphs">Veneto</text></g>
<g id="lb-b1-riva1" class="lb s16"><rect x="94" y="295" width="196" height="22" rx="2"/><text x="192" y="311.4" textLength="184" lengthAdjust="spacingAndGlyphs">Riva_del_Garda :   <tspan class="b">IN</tspan></text></g>
<g id="lb-b1-vermiglio" class="lb s16"><rect x="368" y="300" width="145" height="22" rx="2"/><text x="440.5" y="316.4" textLength="133" lengthAdjust="spacingAndGlyphs">Vermiglio :   <tspan class="b">IN</tspan></text></g>
<g id="lb-b1-riva2" class="lb s16"><rect x="104" y="355" width="197" height="21" rx="2"/><text x="202.5" y="370.9" textLength="185" lengthAdjust="spacingAndGlyphs">Riva_del_Garda :   <tspan class="b">IN</tspan></text></g>
<g id="lb-b1-lazio" class="lb s16"><rect x="337" y="349" width="58" height="19" rx="2"/><text x="366" y="363.9" textLength="46" lengthAdjust="spacingAndGlyphs">Lazio</text></g>
<g id="lb-b1-austria" class="lb s16"><rect x="383" y="389" width="75" height="19" rx="2"/><text x="420.5" y="403.9" textLength="63" lengthAdjust="spacingAndGlyphs">Austria</text></g>
<g id="lb-b1-trento" class="lb s16"><rect x="283" y="416" width="114" height="19" rx="2"/><text x="340" y="430.9" textLength="102" lengthAdjust="spacingAndGlyphs">Trento :   <tspan class="b">IN</tspan></text></g>
<g id="lb-b1-campania" class="lb s16"><rect x="105" y="454" width="168" height="22" rx="2"/><text x="189" y="470.4" textLength="156" lengthAdjust="spacingAndGlyphs">Campania :   <tspan class="b">OUT</tspan></text></g>
<g id="lb-b1-arco" class="lb s16"><rect x="283" y="454" width="100" height="19" rx="2"/><text x="333" y="468.9" textLength="88" lengthAdjust="spacingAndGlyphs">Arco :   <tspan class="b">IN</tspan></text></g>
<g id="lb-b1-borgo" class="lb s16"><rect x="353" y="487" width="216" height="23" rx="2"/><text x="461" y="503.9" textLength="204" lengthAdjust="spacingAndGlyphs">Borgo_Valsugana :   <tspan class="b">IN</tspan></text></g>
<g id="lb-b1-unknown" class="lb s16"><rect x="161" y="511" width="166" height="20" rx="2"/><text x="244" y="526.4" textLength="154" lengthAdjust="spacingAndGlyphs">UNKNOWN :   <tspan class="b">IN</tspan></text></g>
<g id="lb-b1-france" class="lb s16"><rect x="140" y="576" width="74" height="19" rx="2"/><text x="177" y="590.9" textLength="62" lengthAdjust="spacingAndGlyphs">France</text></g>
<g id="lb-b1-faroe" class="lb s16"><rect x="52" y="655" width="137" height="22" rx="2"/><text x="120.5" y="671.4" textLength="125" lengthAdjust="spacingAndGlyphs">Faroe_Islands</text></g>
<g id="lb-b1-belarus" class="lb s16"><rect x="449" y="658" width="147" height="20" rx="2"/><text x="522.5" y="673.4" textLength="135" lengthAdjust="spacingAndGlyphs">Belarus :   <tspan class="b">OUT</tspan></text></g>
<!-- B.1.177 -->
<g id="lb-c-veneto" class="lb s13"><rect x="676" y="124" width="107" height="17" rx="2"/><text x="729.5" y="137" textLength="97" lengthAdjust="spacingAndGlyphs">Veneto :   <tspan class="b">OUT</tspan></text></g>
<g id="lb-c-spain1" class="lb s14"><rect x="775" y="437" width="83" height="20.5" rx="2"/><text x="816.5" y="452" textLength="73" lengthAdjust="spacingAndGlyphs">Spain :   <tspan class="b">IN</tspan></text></g>
<g id="lb-c-spain2" class="lb s14"><rect x="880" y="489" width="82" height="21" rx="2"/><text x="921" y="504.3" textLength="72" lengthAdjust="spacingAndGlyphs">Spain :   <tspan class="b">IN</tspan></text></g>
<g id="lb-c-sweden" class="lb s14"><rect x="961" y="523" width="62" height="20" rx="2"/><text x="992" y="537.8" textLength="52" lengthAdjust="spacingAndGlyphs">Sweden</text></g>
<g id="lb-c-comano" class="lb s14"><rect x="841" y="556" width="167" height="22" rx="2"/><text x="924.5" y="571.8" textLength="155" lengthAdjust="spacingAndGlyphs">Comano_Terme :   <tspan class="b">OUT</tspan></text></g>
<g id="lb-c-campania" class="lb s14"><rect x="1029" y="559" width="113" height="21" rx="2"/><text x="1085.5" y="574.3" textLength="103" lengthAdjust="spacingAndGlyphs">Campania :   <tspan class="b">IN</tspan></text></g>
<g id="lb-c-scotland" class="lb s14"><rect x="992" y="608" width="103" height="19" rx="2"/><text x="1043.5" y="622.3" textLength="93" lengthAdjust="spacingAndGlyphs">Scotland :   <tspan class="b">IN</tspan></text></g>
<g id="lb-c-basilicata" class="lb s14"><rect x="764" y="622" width="111" height="19" rx="2"/><text x="819.5" y="636.3" textLength="101" lengthAdjust="spacingAndGlyphs">Basilicata :   <tspan class="b">IN</tspan></text></g>
<!-- B.1.1.29 -->
<g id="lb-d-lavis" class="lb s13"><rect x="357" y="922" width="45" height="16.5" rx="2"/><text x="379.5" y="934.6" textLength="37" lengthAdjust="spacingAndGlyphs">Lavis</text></g>
<g id="lb-d-sporm" class="lb s13"><rect x="336" y="1053" width="149" height="19" rx="2"/><text x="410.5" y="1066.9" textLength="139" lengthAdjust="spacingAndGlyphs">Spormaggiore :   <tspan class="b">IN</tspan></text></g>
<g id="lb-d-male" class="lb s13"><rect x="103" y="1099" width="82" height="18" rx="2"/><text x="144" y="1112.4" textLength="72" lengthAdjust="spacingAndGlyphs">Malé :   <tspan class="b">IN</tspan></text></g>
<g id="lb-d-canazei" class="lb s13"><rect x="276" y="1152" width="103" height="17.5" rx="2"/><text x="327.5" y="1165.2" textLength="93" lengthAdjust="spacingAndGlyphs">Canazei :   <tspan class="b">IN</tspan></text></g>
<g id="lb-d-belgium" class="lb s13"><rect x="367" y="1372" width="68" height="19" rx="2"/><text x="401" y="1385.9" textLength="58" lengthAdjust="spacingAndGlyphs">Belgium</text></g>
<!-- Other lineages -->
<g id="lb-o-romania" class="lb s145"><rect x="693" y="917" width="118" height="18" rx="2"/><text x="752" y="930.9" textLength="106" lengthAdjust="spacingAndGlyphs">Romania :   <tspan class="b">IN</tspan></text></g>
<g id="lb-o-austria" class="lb s145"><rect x="721" y="991" width="65" height="17.5" rx="2"/><text x="753.5" y="1004.6" textLength="55" lengthAdjust="spacingAndGlyphs">Austria</text></g>
<g id="lb-o-switz1" class="lb s145"><rect x="643" y="1031" width="144" height="19" rx="2"/><text x="715" y="1045.4" textLength="132" lengthAdjust="spacingAndGlyphs">Switzerland :   <tspan class="b">IN</tspan></text></g>
<g id="lb-o-belgium" class="lb s145"><rect x="672" y="1073" width="115" height="20" rx="2"/><text x="729.5" y="1087.9" textLength="103" lengthAdjust="spacingAndGlyphs">Belgium :   <tspan class="b">IN</tspan></text></g>
<g id="lb-o-greece" class="lb s145"><rect x="795" y="1050" width="105" height="18" rx="2"/><text x="847.5" y="1063.9" textLength="93" lengthAdjust="spacingAndGlyphs">Greece :   <tspan class="b">IN</tspan></text></g>
<g id="lb-o-iceland" class="lb s145"><rect x="870" y="1088" width="66" height="17" rx="2"/><text x="903" y="1101.4" textLength="56" lengthAdjust="spacingAndGlyphs">Iceland</text></g>
<g id="lb-o-switz2" class="lb s145"><rect x="925" y="998" width="143" height="18" rx="2"/><text x="996.5" y="1011.9" textLength="131" lengthAdjust="spacingAndGlyphs">Switzerland :   <tspan class="b">IN</tspan></text></g>
<g id="lb-o-abruzzo" class="lb s145"><rect x="792" y="1120" width="72" height="18" rx="2"/><text x="828" y="1133.9" textLength="62" lengthAdjust="spacingAndGlyphs">Abruzzo</text></g>
<g id="lb-o-switz3" class="lb s145"><rect x="811" y="1145" width="142" height="19" rx="2"/><text x="882" y="1159.4" textLength="130" lengthAdjust="spacingAndGlyphs">Switzerland :   <tspan class="b">IN</tspan></text></g>
<g id="lb-o-lombardy1" class="lb s145"><rect x="725" y="1174" width="129" height="21" rx="2"/><text x="789.5" y="1189.4" textLength="117" lengthAdjust="spacingAndGlyphs">Lombardy :   <tspan class="b">IN</tspan></text></g>
<g id="lb-o-vermiglio" class="lb s145"><rect x="591" y="1195" width="126" height="22" rx="2"/><text x="654" y="1210.9" textLength="114" lengthAdjust="spacingAndGlyphs">Vermiglio :   <tspan class="b">IN</tspan></text></g>
<g id="lb-o-switz4" class="lb s145"><rect x="760" y="1221" width="102" height="19" rx="2"/><text x="811" y="1235.4" textLength="92" lengthAdjust="spacingAndGlyphs">Switzerland</text></g>
<g id="lb-o-norway" class="lb s145"><rect x="497" y="1224" width="111" height="20" rx="2"/><text x="552.5" y="1238.9" textLength="99" lengthAdjust="spacingAndGlyphs">Norway :   <tspan class="b">IN</tspan></text></g>
<g id="lb-o-lombardy2" class="lb s145"><rect x="700" y="1248" width="130" height="21" rx="2"/><text x="765" y="1263.4" textLength="118" lengthAdjust="spacingAndGlyphs">Lombardy :   <tspan class="b">IN</tspan></text></g>
<g id="lb-o-germany" class="lb s145"><rect x="540" y="1264" width="81" height="19" rx="2"/><text x="580.5" y="1278.4" textLength="71" lengthAdjust="spacingAndGlyphs">Germany</text></g>
<g id="lb-o-england160" class="lb s145"><rect x="838" y="1263" width="114" height="22" rx="2"/><text x="895" y="1278.9" textLength="102" lengthAdjust="spacingAndGlyphs">England :   <tspan class="b">IN</tspan></text></g>
<g id="lb-o-trento" class="lb s145"><rect x="813" y="1302" width="101" height="19" rx="2"/><text x="863.5" y="1316.4" textLength="89" lengthAdjust="spacingAndGlyphs">Trento :   <tspan class="b">IN</tspan></text></g>
<g id="lb-o-england" class="lb s145"><rect x="617" y="1303" width="73" height="20" rx="2"/><text x="653.5" y="1317.9" textLength="63" lengthAdjust="spacingAndGlyphs">England</text></g>
<g id="lb-o-denmark" class="lb s145"><rect x="653" y="1353" width="122" height="19" rx="2"/><text x="714" y="1367.4" textLength="110" lengthAdjust="spacingAndGlyphs">Denmark :   <tspan class="b">IN</tspan></text></g>
<g id="lb-o-wales" class="lb s145"><rect x="589" y="1394" width="55" height="19" rx="2"/><text x="616.5" y="1408.4" textLength="45" lengthAdjust="spacingAndGlyphs">Wales</text></g>
<g id="lb-o-abruzzo2" class="lb s145"><rect x="547" y="1422" width="113" height="19" rx="2"/><text x="603.5" y="1436.4" textLength="101" lengthAdjust="spacingAndGlyphs">Abruzzo :   <tspan class="b">IN</tspan></text></g>
</g>

<g id="lineage-tags">
<text class="tag" x="764" y="842.5" textLength="67" lengthAdjust="spacingAndGlyphs">B.1.258</text>
<text class="tag" x="968" y="981" textLength="66" lengthAdjust="spacingAndGlyphs">B.1.367</text>
<text class="tag" x="586" y="1188.5" textLength="44" lengthAdjust="spacingAndGlyphs">B.1.1</text>
<text class="tag" x="919" y="1299.5" textLength="66" lengthAdjust="spacingAndGlyphs">B.1.160</text>
<text class="tag" x="769" y="1345" textLength="84" lengthAdjust="spacingAndGlyphs">B.1.1.305</text>
<text class="tag" x="721" y="1435.5" textLength="84" lengthAdjust="spacingAndGlyphs">B.1.1.130</text>
<text class="tag" x="561" y="1527" textLength="61" lengthAdjust="spacingAndGlyphs">B.1.1.1</text>
</g>

<g id="titles">
<text class="ttl" x="37" y="62">B.1</text>
<text class="ttl" x="965" y="68">B.1.177</text>
<text class="ttl" x="807" y="879">Other lineages</text>
<text class="ttl" x="37" y="884">B.1.1.29</text>
</g>

<g id="legend">
<text class="lgt" x="1083" y="1010.5">N. Isolates</text>
<circle cx="1096" cy="1025.4" r="3.8" fill="#000"/>
<circle cx="1096" cy="1043.6" r="7" fill="#000"/>
<circle cx="1096" cy="1061.8" r="8.3" fill="#000"/>
<circle cx="1096" cy="1084.6" r="9.3" fill="#000"/>
<text class="lg" x="1115" y="1028.5">0</text>
<text class="lg" x="1115" y="1046.7">1</text>
<text class="lg" x="1115" y="1064.9">2</text>
<text class="lg" x="1115" y="1087.7">3</text>
<text class="lgt" x="1083" y="1112">Week</text>
<rect x="1083" y="1120" width="20" height="87" fill="url(#wk)"/>
<text class="lg" x="1109" y="1127">50</text>
<text class="lg" x="1109" y="1147">40</text>
<text class="lg" x="1109" y="1167.2">30</text>
<text class="lg" x="1109" y="1187">20</text>
<text class="lg" x="1109" y="1207">10</text>
<text class="lgt" x="1083" y="1225">Mutations</text>
<line x1="1085" y1="1240.3" x2="1101" y2="1240.3" stroke="#222" stroke-width="1.8"/>
<line x1="1085" y1="1258" x2="1101" y2="1258" stroke="#7a7a7a" stroke-width="1.4"/>
<line x1="1085" y1="1276.1" x2="1101" y2="1276.1" stroke="#c2c2c2" stroke-width="1.1"/>
<text class="lg" x="1109" y="1243.4">5</text>
<text class="lg" x="1109" y="1261.1">10</text>
<text class="lg" x="1109" y="1279.2">15</text>
<text class="lgt" x="1083" y="1302">Origin</text>
<circle cx="1094" cy="1317.3" r="2.2" fill="#ddd" stroke="#555" stroke-width="0.6"/>
<path d="M1094,1332.2L1096.8,1336.6H1091.2Z" fill="#ddd" stroke="#555" stroke-width="0.6"/>
<rect x="1091.7" y="1350.3" width="4.6" height="4" fill="#ddd" stroke="#555" stroke-width="0.6"/>
<text class="lg" x="1109" y="1320.4">Both</text>
<text class="lg" x="1109" y="1337.8">External</text>
<text class="lg" x="1109" y="1355.5">Trentino</text>
</g>
</g>
</svg>
